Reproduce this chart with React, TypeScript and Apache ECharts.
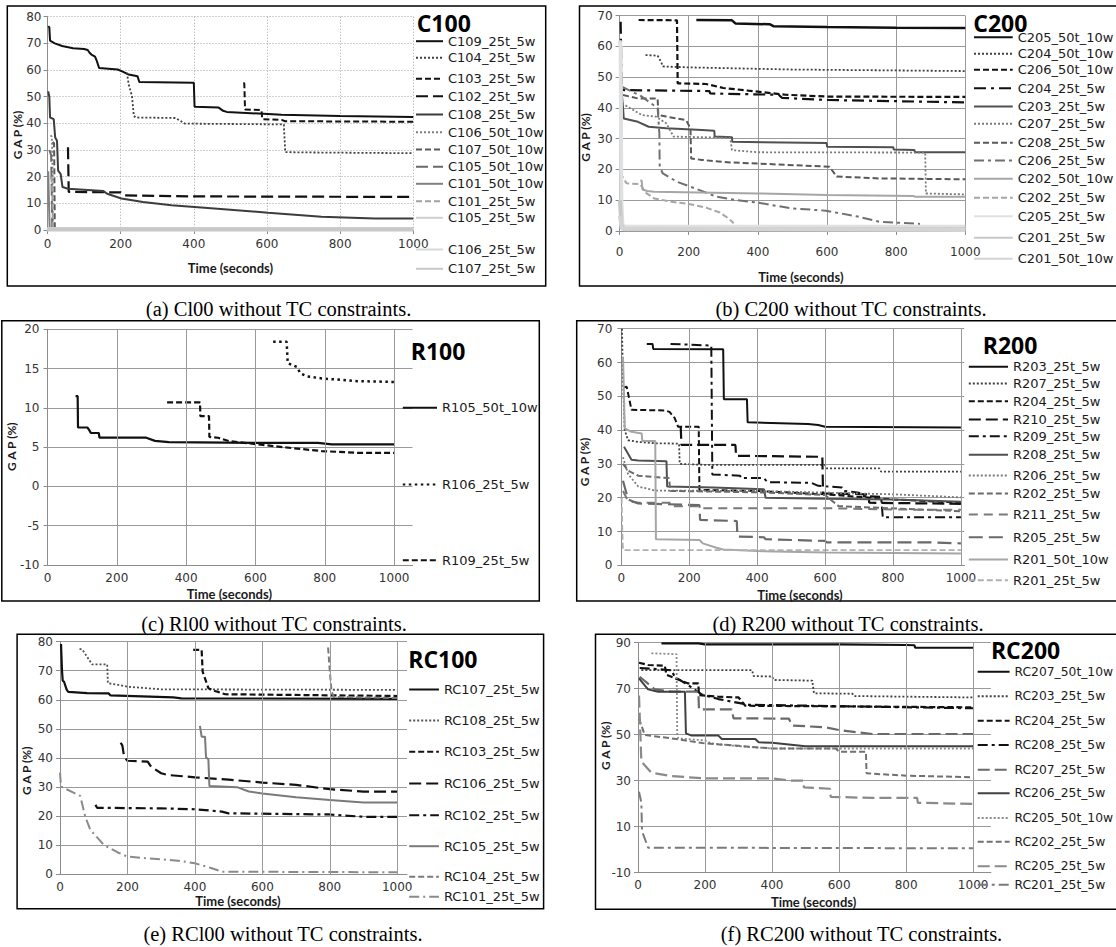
import React, { useEffect, useRef } from "react";
import * as echarts from "echarts";

// ---------- values: [time (seconds), GAP (%)] ----------
// (a) C100
const C109_25t_5w = [[2,76.5],[5,76],[7,71],[20,70],[40,69],[70,68.2],[100,67.9],[110,67.5],[115,66.5],[120,65.8],[130,65],[135,63.3],[141,60.8],[192,60.2],[207,59.3],[222,58.3],[246,57.7],[251,55.5],[400,55.2],[402,46.2],[468,45.9],[480,44.7],[490,44.3],[640,43.2],[800,42.8],[1000,42.4]];
const C104_25t_5w = [[217,59],[222,54.6],[231,50.2],[236,42.8],[241,42.2],[350,42],[365,40.8],[375,39.9],[646,39.6],[650,29.2],[700,29.1],[1000,28.8]];
const C103_25t_5w = [[535,55],[538,55],[540,45.2],[585,45],[587,41.6],[640,41.3],[650,40.8],[1000,40.6]];
const C102_25t_5w = [[56,31],[57,31],[58,14.3],[200,14.1],[210,13],[400,12.6],[1000,12.4]];
const C108_25t_5w = [[2,52],[5,50],[7,42.2],[17,41.6],[21,34.7],[26,33.5],[29,22.3],[36,21],[41,16.1],[56,15.5],[153,14.6],[163,13.6],[202,11.8],[261,10.5],[339,9.3],[456,8.1],[603,6.5],[749,5],[895,4.3],[1000,4.3]];
const C106_50t_10w = [[8,35.5],[12,35],[14,20],[15,0.5]];
const C107_50t_10w = [[14,33],[18,32.5],[19,18],[20,0.5]];
const C105_50t_10w = [[5,30],[10,28],[12,10],[13,0.5]];
const C101_50t_10w = [[2,22],[4,10],[6,0.5],[10,0.5]];
const C101_25t_5w = [[10,20],[13,16],[15,0.5]];
const C105_25t_5w = [[0,0.3],[1000,0.3]];
const C106_25t_5w = [[0,0.3],[1000,0.3]];
const C107_25t_5w = [[0,0.3],[1000,0.3]];

// (b) C200
const C205_50t_10w = [[222,68.6],[325,68.5],[335,67.5],[435,67.2],[445,66.6],[600,66.3],[800,66.1],[1000,66]];
const C204_50t_10w = [[75,57.2],[110,57],[120,55],[125,53.5],[200,53.2],[500,52.5],[1000,52]];
const C206_50t_10w = [[55,68.6],[166,68.5],[168,48],[250,47.8],[300,46.5],[400,45.3],[480,44.3],[600,43.7],[1000,43.6]];
const C204_25t_5w = [[3,68],[6,48],[12,45.8],[260,45.5],[262,44.7],[460,44.3],[470,43.3],[600,42.6],[1000,41.8]];
const C203_25t_5w = [[3,49],[10,40],[12,36.6],[53,35.5],[84,33.9],[135,33.4],[238,32.8],[274,32.6],[275,30.7],[325,30.5],[326,29],[599,28.6],[600,27.4],[792,27.2],[793,26.5],[853,26.3],[854,25.6],[1000,25.6]];
const C207_25t_5w = [[7,41.5],[64,37.7],[105,37.2],[135,35],[156,30.7],[320,30.3],[325,26.3],[400,25.6],[884,25.5],[886,12.2],[1000,11.9]];
const C208_25t_5w = [[10,44.2],[53,43.1],[110,43.1],[112,37.7],[135,37.2],[192,36.1],[205,33.4],[207,23.6],[238,23.1],[320,22.3],[443,21.7],[607,20.9],[628,17.7],[751,17.1],[1000,16.8]];
const C206_25t_5w = [[5,47],[60,44],[110,40],[115,31.7],[116,20.9],[125,18.7],[166,16],[217,13.9],[279,11.2],[340,10],[402,9.2],[494,7.4],[597,6.6],[689,4.7],[751,3],[869,2.3]];
const C202_50t_10w = [[60,16.5],[64,16.3],[66,13.5],[80,13],[100,12.8],[400,12.2],[600,11.7],[850,11.4],[855,11.1],[1000,11.1]];
const C202_25t_5w = [[3,19],[8,17.7],[20,15.5],[60,15.2],[75,12.5],[100,10.6],[150,9.5],[200,8.8],[250,7.6],[290,6],[315,4.1],[330,2.5]];
const C205_25t_5w = [[0,62],[3,60],[5,10],[8,2],[15,1.4],[1000,1.4]];
const C201_25t_5w = [[1,10],[5,2],[12,0.6],[1000,0.6]];
const C201_50t_10w = [[1,5],[6,0.8],[1000,0.3]];

// (c) R100
const R105_50t_10w = [[81,11.5],[87,11.5],[88,7.5],[115,7.5],[120,7.2],[125,6.8],[148,6.8],[150,6.2],[285,6.2],[310,5.8],[350,5.65],[600,5.55],[780,5.55],[820,5.35],[1000,5.35]];
const R106_25t_5w = [[651,18.4],[690,18.4],[693,15.7],[720,15.2],[729,14.4],[750,14],[791,13.75],[894,13.4],[1000,13.3]];
const R109_25t_5w = [[345,10.7],[440,10.7],[441,8.95],[466,8.95],[467,6.3],[492,6.2],[523,5.77],[585,5.47],[688,4.96],[791,4.5],[894,4.28],[1000,4.28]];

// (d) R200
const R203_25t_5w = [[75,65.5],[92,65.5],[94,64],[300,63.9],[302,49.1],[370,49.1],[372,42.3],[550,41.8],[580,41.5],[600,41],[1000,40.8]];
const R207_25t_5w = [[2,70],[5,55],[10,40],[20,37],[50,36.5],[100,36.1],[170,36],[172,30],[250,29.7],[600,29.7],[605,28.7],[760,28.7],[765,27.7],[1000,27.7]];
const R204_25t_5w = [[5,52.6],[16,52.8],[30,46],[129,45.8],[142,45.4],[157,43.6],[167,41],[190,41],[228,41],[230,22.3],[400,22],[600,21],[800,19.5],[1000,18.5]];
const R210_25t_5w = [[175,41],[177,35.6],[336,35.6],[338,32.4],[592,32.1],[594,21.3],[728,21],[730,18.5],[1000,18.2]];
const R209_25t_5w = [[145,65.5],[265,65],[268,26.9],[350,26.5],[352,25.8],[420,25.8],[430,24.6],[560,24.4],[580,23.5],[650,23],[655,22],[700,21.5],[705,20.5],[765,20.3],[770,14.2],[1000,14.2]];
const R208_25t_5w = [[8,35.1],[30,31.2],[50,31],[133,30.8],[135,23.3],[270,23],[420,22.5],[425,20],[600,19.7],[800,19.5],[1000,18.8]];
const R206_25t_5w = [[5,32],[20,27],[50,23.3],[100,22.1],[400,22],[600,21.5],[800,21],[1000,20.1]];
const R202_25t_5w = [[5,30],[20,28],[50,26.5],[140,25.8],[145,22],[400,21.6],[600,20.8],[640,17.5],[1000,16]];
const R211_25t_5w = [[5,22],[20,19],[50,18.5],[150,18.5],[152,17.5],[230,17.5],[240,16.9],[600,16.9],[800,16.5],[1000,16.4]];
const R205_25t_5w = [[5,25],[20,19.5],[50,18.3],[230,17.8],[232,13.4],[340,13.1],[342,8.5],[420,8.3],[425,7.7],[600,7.2],[605,6.8],[900,6.8],[1000,6.5]];
const R201_50t_10w = [[5,61.7],[8,50],[10,40.5],[30,39.5],[60,39],[62,36.8],[100,36.8],[102,7.7],[230,7.5],[240,6.5],[280,5.2],[300,4.7],[400,4.2],[600,3.8],[1000,3.5]];
const R201_25t_5w = [[1,20],[3,10],[5,4.5],[1000,4.5]];

// (e) RC100
const RC107_25t_5w = [[3,79.2],[6,70],[8,66.6],[12,66.2],[20,63.4],[25,62.7],[80,62.3],[144,62.2],[150,61.5],[336,60.8],[360,60.5],[1000,60.3]];
const RC108_25t_5w = [[58,77.5],[66,77.3],[85,74],[95,72.2],[140,72.2],[142,65.7],[180,65],[200,64.5],[300,63.6],[1000,63.4]];
const RC103_25t_5w = [[395,77.2],[420,77.2],[423,69.7],[440,64],[460,63],[490,61.9],[1000,61.3]];
const RC106_25t_5w = [[180,45.2],[185,44.2],[190,40.4],[200,39],[260,38.7],[270,37],[300,34.7],[320,34.1],[400,33.3],[500,32.5],[600,31.5],[700,30.7],[800,29.2],[900,28.4],[1000,28.4]];
const RC102_25t_5w = [[105,23.8],[110,22.8],[300,22.6],[400,22.3],[480,21.5],[500,20.9],[800,20.5],[900,19.7],[1000,19.7]];
const RC105_25t_5w = [[415,51],[420,47.3],[430,47.3],[433,40.2],[440,39.5],[443,30.3],[525,29.9],[560,28.4],[600,27.7],[700,26.4],[800,25.5],[900,24.6],[1000,24.6]];
const RC104_25t_5w = [[795,78],[800,70],[805,63],[812,61],[1000,60.6]];
const RC101_25t_5w = [[0,34.9],[3,30.1],[40,28],[60,26.9],[75,19.7],[90,15.2],[130,10],[170,7.5],[200,6],[250,5.5],[350,4.6],[400,3.7],[450,2],[480,0.8],[1000,0.6]];

// (f) RC200
const RC207_50t_10w = [[70,89.7],[180,89.7],[200,89.3],[600,89.3],[800,89],[825,88.9],[827,87.8],[1000,87.8]];
const RC203_25t_5w = [[10,78.1],[340,78.1],[345,75.5],[400,75.3],[405,73.8],[520,73.5],[525,68],[640,67.8],[645,66.8],[1000,66.2]];
const RC204_25t_5w = [[3,81.3],[30,80.3],[80,80],[85,76],[120,74],[150,72.3],[180,72.3],[182,67.2],[240,66.5],[300,66.2],[320,62.6],[1000,61.9]];
const RC208_25t_5w = [[5,79],[60,78.5],[100,78],[110,75],[140,72.5],[190,67.5],[240,65.5],[330,63],[1000,61.5]];
const RC207_25t_5w = [[5,75.2],[50,69.7],[100,68.7],[180,68.7],[182,61],[280,61],[285,57.1],[450,57],[460,54],[560,53.2],[600,52],[700,50.3],[1000,50.3]];
const RC206_25t_5w = [[3,74.5],[30,69.7],[60,68.7],[140,68.7],[143,50.6],[160,49.6],[240,49.6],[250,48.1],[350,48.1],[360,46.7],[400,46.5],[500,45],[1000,45]];
const RC205_50t_10w = [[40,85.4],[115,85],[117,50.6],[120,48.4],[200,47.5],[220,46.2],[300,45],[400,44],[1000,44]];
const RC202_25t_5w = [[3,57.1],[20,49.9],[100,48.4],[200,46.2],[300,45.2],[400,44],[590,44],[600,42.6],[680,42.6],[682,33.2],[800,32.2],[1000,31.5]];
const RC205_25t_5w = [[3,67],[10,38.3],[40,33.5],[100,32],[200,31],[400,31],[460,30],[493,30],[495,27.1],[573,26.5],[575,23],[700,22.5],[833,22.5],[835,20.4],[1000,19.9]];
const RC201_25t_5w = [[3,25.2],[10,20.4],[12,8],[20,4.9],[30,0.9],[1000,0.6]];

// axis ticks
const X_TICKS = [0, 200, 400, 600, 800, 1000];

// ---------- styles ----------
const K = "#111111";
const DOT = [2, 2];
const DASH = [6, 3];
const LDASH = [12, 5];
const DDOT = [10, 4, 3, 4];
type Def = { name: string; data: number[][]; color: string; dash: any; width: number };
const s = (name: string, data: number[][], color: string, dash: any, width = 2): Def => ({ name, data, color, dash, width });

const PANEL_SERIES: Def[][] = [
  [
    s("C109_25t_5w", C109_25t_5w, K, "solid", 2),
    s("C104_25t_5w", C104_25t_5w, "#404040", DOT, 1.8),
    s("C103_25t_5w", C103_25t_5w, K, DASH, 2),
    s("C102_25t_5w", C102_25t_5w, K, LDASH, 2.2),
    s("C108_25t_5w", C108_25t_5w, "#3c3c3c", "solid", 2),
    s("C106_50t_10w", C106_50t_10w, "#808080", DOT, 1.8),
    s("C107_50t_10w", C107_50t_10w, "#5a5a5a", DASH, 2),
    s("C105_50t_10w", C105_50t_10w, "#6a6a6a", LDASH, 2),
    s("C101_50t_10w", C101_50t_10w, "#808080", "solid", 2),
    s("C101_25t_5w", C101_25t_5w, "#a0a0a0", DASH, 2),
    s("C105_25t_5w", C105_25t_5w, "#d0d0d0", "solid", 4),
    s("C106_25t_5w", C106_25t_5w, "#d8d8d8", "solid", 4),
    s("C107_25t_5w", C107_25t_5w, "#c8c8c8", "solid", 4),
  ],
  [
    s("C205_50t_10w", C205_50t_10w, K, "solid", 2.5),
    s("C204_50t_10w", C204_50t_10w, "#404040", DOT, 1.8),
    s("C206_50t_10w", C206_50t_10w, K, DASH, 2.2),
    s("C204_25t_5w", C204_25t_5w, K, [12, 5, 3, 5], 2.2),
    s("C203_25t_5w", C203_25t_5w, "#505050", "solid", 2),
    s("C207_25t_5w", C207_25t_5w, "#7a7a7a", DOT, 1.8),
    s("C208_25t_5w", C208_25t_5w, "#595959", DASH, 2),
    s("C206_25t_5w", C206_25t_5w, "#707070", DDOT, 2),
    s("C202_50t_10w", C202_50t_10w, "#a6a6a6", "solid", 2),
    s("C202_25t_5w", C202_25t_5w, "#a6a6a6", DASH, 2),
    s("C205_25t_5w", C205_25t_5w, "#e0e0e0", "solid", 4),
    s("C201_25t_5w", C201_25t_5w, "#c8c8c8", "solid", 4),
    s("C201_50t_10w", C201_50t_10w, "#d4d4d4", "solid", 4),
  ],
  [
    s("R105_50t_10w", R105_50t_10w, K, "solid", 2.2),
    s("R106_25t_5w", R106_25t_5w, K, [2.5, 3.5], 2.5),
    s("R109_25t_5w", R109_25t_5w, K, DASH, 2.2),
  ],
  [
    s("R203_25t_5w", R203_25t_5w, K, "solid", 2),
    s("R207_25t_5w", R207_25t_5w, "#404040", DOT, 1.8),
    s("R204_25t_5w", R204_25t_5w, K, DASH, 2),
    s("R210_25t_5w", R210_25t_5w, K, LDASH, 2.2),
    s("R209_25t_5w", R209_25t_5w, K, DDOT, 2),
    s("R208_25t_5w", R208_25t_5w, "#505050", "solid", 2),
    s("R206_25t_5w", R206_25t_5w, "#7a7a7a", DOT, 1.8),
    s("R202_25t_5w", R202_25t_5w, "#6a6a6a", DASH, 2),
    s("R211_25t_5w", R211_25t_5w, "#7a7a7a", [9, 6], 2),
    s("R205_25t_5w", R205_25t_5w, "#6a6a6a", [14, 6], 2.2),
    s("R201_50t_10w", R201_50t_10w, "#a6a6a6", "solid", 2),
    s("R201_25t_5w", R201_25t_5w, "#b0b0b0", DASH, 1.8),
  ],
  [
    s("RC107_25t_5w", RC107_25t_5w, K, "solid", 2.2),
    s("RC108_25t_5w", RC108_25t_5w, "#505050", DOT, 1.8),
    s("RC103_25t_5w", RC103_25t_5w, K, DASH, 2.2),
    s("RC106_25t_5w", RC106_25t_5w, K, LDASH, 2.2),
    s("RC102_25t_5w", RC102_25t_5w, K, DDOT, 2.2),
    s("RC105_25t_5w", RC105_25t_5w, "#7a7a7a", "solid", 2),
    s("RC104_25t_5w", RC104_25t_5w, "#7a7a7a", DASH, 2),
    s("RC101_25t_5w", RC101_25t_5w, "#8a8a8a", [10, 4, 2, 4], 2),
  ],
  [
    s("RC207_50t_10w", RC207_50t_10w, K, "solid", 2.2),
    s("RC203_25t_5w", RC203_25t_5w, "#404040", DOT, 1.8),
    s("RC204_25t_5w", RC204_25t_5w, K, DASH, 2.2),
    s("RC208_25t_5w", RC208_25t_5w, K, DDOT, 2.2),
    s("RC207_25t_5w", RC207_25t_5w, "#6a6a6a", LDASH, 2.2),
    s("RC206_25t_5w", RC206_25t_5w, "#404040", "solid", 2),
    s("RC205_50t_10w", RC205_50t_10w, "#8a8a8a", DOT, 1.8),
    s("RC202_25t_5w", RC202_25t_5w, "#707070", DASH, 2),
    s("RC205_25t_5w", RC205_25t_5w, "#8a8a8a", LDASH, 2.2),
    s("RC201_25t_5w", RC201_25t_5w, "#7a7a7a", DDOT, 2),
  ],
];

// ---------- layout (pixels) ----------
type Lay = {
  box: number[]; grid: number[]; xmax: number; y: number[]; dotted: boolean; xTicks: boolean;
  xm: number; ym: number; title: [string, number, number]; time: number[]; gap: number[];
  cap: [string, number, number]; leg: [number, number, number[]]; legFont: number;
};
const LAYOUTS: Lay[] = [
  { box: [7.3, 6, 545.7, 286], grid: [47.5, 16.7, 413.3, 230], xmax: 1000, y: [0, 80, 10], dotted: true, xTicks: true, xm: 8, ym: 6,
    title: ["C100", 416.7, 22.8], time: [230.4, 268.3], gap: [17, 135], cap: ["(a) Cl00 without TC constraints.", 278.6, 309],
    leg: [415, 447, [41.7, 58.3, 79.3, 96.7, 115, 132.7, 150, 167.3, 184.3, 201.7, 218.3, 250, 269.3]], legFont: 13 },
  { box: [579.5, 6, 1130, 286], grid: [619.6, 15.7, 965.3, 231], xmax: 1000, y: [0, 70, 10], dotted: false, xTicks: true, xm: 15, ym: 7,
    title: ["C200", 973.3, 22.8], time: [800.8, 276.7], gap: [585.5, 137.5], cap: ["(b) C200 without TC constraints.", 851, 309],
    leg: [973, 1016.7, [37.7, 54.3, 70.3, 88.7, 107, 124.3, 143.3, 161, 179.3, 198.3, 216.7, 238.3, 259.3]], legFont: 13 },
  { box: [1.8, 320.7, 539.3, 601], grid: [47.5, 329.3, 412.5, 565], xmax: 1053, y: [-10, 20, 5], dotted: false, xTicks: false, xm: 7, ym: 8,
    title: ["R100", 410.7, 351], time: [229.3, 594], gap: [11.8, 446.7], cap: ["(c) Rl00 without TC constraints.", 274, 623.5],
    leg: [401.8, 441, [408.3, 485, 560.7]], legFont: 13 },
  { box: [576.7, 320.7, 1130, 601], grid: [621.3, 328.7, 964.3, 565.3], xmax: 1010, y: [0, 70, 10], dotted: false, xTicks: false, xm: 7, ym: 9,
    title: ["R200", 982.7, 344.5], time: [800, 595], gap: [584.8, 462], cap: ["(d) R200 without TC constraints.", 848, 623.5],
    leg: [967.8, 1012, [367.3, 384, 401.7, 420, 436.7, 455.3, 476, 494, 515, 537.7, 560, 580.7]], legFont: 13 },
  { box: [17.1, 634.3, 543.6, 908.7], grid: [60, 641.7, 407, 874], xmax: 1029, y: [0, 80, 10], dotted: false, xTicks: false, xm: 7, ym: 7,
    title: ["RC100", 408.2, 658.5], time: [237.9, 901], gap: [26, 770.8], cap: ["(e) RCl00 without TC constraints.", 283, 933.5],
    leg: [408.2, 442.9, [690, 721, 752.3, 784, 815.7, 846.7, 877.3, 897.3]], legFont: 13 },
  { box: [595.5, 634.3, 1130, 909.3], grid: [638, 642.7, 990.9, 872.7], xmax: 1053, y: [-10, 90, 20], dotted: false, xTicks: false, xm: 6, ym: 7,
    title: ["RC200", 990.9, 649.5], time: [813.6, 901.7], gap: [605, 745.8], cap: ["(f) RC200 without TC constraints.", 861.5, 933.5],
    leg: [976.7, 1013.6, [672.7, 697.3, 721.7, 746, 770.7, 794.3, 819, 842.7, 867.3, 885.7]], legFont: 12.3 },
];

const TICK_FONT = "DejaVu Sans";
const LEG_FONT = "DejaVu Sans";
const AXIS_GRAY = "#8c8c8c";
const HIDDEN = "rgba(0,0,0,0)";

function buildOption() {
  const grid: any[] = [];
  const xAxis: any[] = [];
  const yAxis: any[] = [];
  const series: any[] = [];
  const legend: any[] = [];
  const elements: any[] = [];

  LAYOUTS.forEach((L, i) => {
    const [gl, gt, gr, gb] = L.grid;
    grid.push({ left: gl, top: gt, width: gr - gl, height: gb - gt, containLabel: false, show: false });
    const gridColor = L.dotted ? "#a0a0a0" : "#9a9a9a";
    const gridType = L.dotted ? [1, 2] : "solid";
    xAxis.push({
      type: "value", gridIndex: i, min: 0, max: L.xmax, interval: 200,
      axisLine: { show: true, onZero: false, lineStyle: { color: AXIS_GRAY, width: 1 } },
      axisTick: { show: L.xTicks, length: 4, lineStyle: { color: AXIS_GRAY } },
      axisLabel: { margin: L.xm, fontFamily: TICK_FONT, fontSize: 12, color: "#333", showMaxLabel: L.xmax === 1000, showMinLabel: true,
        formatter: (v: number) => String(v) },
      splitLine: { show: L.xmax === 1000, lineStyle: { color: gridColor, type: gridType, width: 1 } },
    });
    yAxis.push({
      type: "value", gridIndex: i, min: L.y[0], max: L.y[1], interval: L.y[2],
      axisLine: { show: true, onZero: false, lineStyle: { color: AXIS_GRAY, width: 1 } },
      axisTick: { show: true, length: 4, lineStyle: { color: AXIS_GRAY } },
      axisLabel: { margin: L.ym, fontFamily: TICK_FONT, fontSize: 12, color: "#333", formatter: (v: number) => String(v) },
      splitLine: { show: true, lineStyle: { color: gridColor, type: gridType, width: 1 } },
    });
    if (L.xmax !== 1000) {
      series.push({
        type: "line", name: "__grid" + i, xAxisIndex: i, yAxisIndex: i, data: [], silent: true, z: 1,
        markLine: {
          silent: true, symbol: ["none", "none"], label: { show: false },
          lineStyle: { color: gridColor, type: "solid", width: 1 },
          emphasis: { disabled: true },
          data: X_TICKS.filter((v) => v > 0).map((v) => ({ xAxis: v })),
        },
      });
    }
    PANEL_SERIES[i].forEach((d, k) => {
      series.push({
        type: "line", name: d.name, xAxisIndex: i, yAxisIndex: i, data: d.data,
        symbol: "none", showSymbol: false, silent: true, z: 3,
        lineStyle: { color: d.color, width: d.width, type: d.dash },
        itemStyle: { color: d.color },
      });
      const [lx, tx, rows] = L.leg;
      legend.push({
        show: true, data: [d.name], left: lx, top: rows[k] - 7, padding: 0,
        itemWidth: tx - lx - 5, itemHeight: 14, selectedMode: false,
        itemStyle: { color: HIDDEN, borderColor: HIDDEN, borderWidth: 0, opacity: 0 },
        textStyle: { fontFamily: LEG_FONT, fontSize: L.legFont, color: "#1a1a1a" },
      });
    });
    const [bx0, by0, bx1, by1] = L.box;
    elements.push({ type: "rect", silent: true, z: 10, shape: { x: bx0, y: by0, width: bx1 - bx0, height: by1 - by0 }, style: { fill: "none", stroke: "#000", lineWidth: 1.5 } });
    elements.push({ type: "text", silent: true, z: 10, x: L.title[1], y: L.title[2],
      style: { text: L.title[0], fontFamily: "Open Sans", fontWeight: "bold", fontSize: 23, lineHeight: 16, fill: "#000", align: "left", verticalAlign: "middle", textAlign: "left", textVerticalAlign: "middle" } });
    elements.push({ type: "text", silent: true, z: 10, x: L.time[0], y: L.time[1],
      style: { text: "Time (seconds)", fontFamily: "Lato", fontWeight: "bold", fontSize: 13, fill: "#1a1a1a", align: "center", verticalAlign: "middle", textAlign: "center", textVerticalAlign: "middle" } });
    elements.push({ type: "text", silent: true, z: 10, x: L.gap[0], y: L.gap[1], rotation: Math.PI / 2,
      style: { text: "G A P (%)", fontFamily: "Lato", fontWeight: "bold", fontSize: 12, fill: "#1a1a1a", align: "center", verticalAlign: "middle", textAlign: "center", textVerticalAlign: "middle" } });
    elements.push({ type: "text", silent: true, z: 10, x: L.cap[1], y: L.cap[2],
      style: { text: L.cap[0], fontFamily: "Liberation Serif", fontSize: 20.5, fill: "#000", align: "center", verticalAlign: "middle", textAlign: "center", textVerticalAlign: "middle" } });
  });

  return {
    animation: false,
    backgroundColor: "#ffffff",
    grid, xAxis, yAxis, series, legend,
    graphic: { elements },
  };
}

export default function App() {
  const ref = useRef<HTMLDivElement>(null);
  useEffect(() => {
    if (!ref.current) return;
    const chart = echarts.init(ref.current, undefined, { renderer: "svg" });
    chart.setOption(buildOption() as any);
    return () => chart.dispose();
  }, []);
  return (
    <div
      ref={ref}
      style={{ position: "absolute", left: 0, top: 0, width: 1116, height: 947, background: "#fff" }}
    />
  );
}
